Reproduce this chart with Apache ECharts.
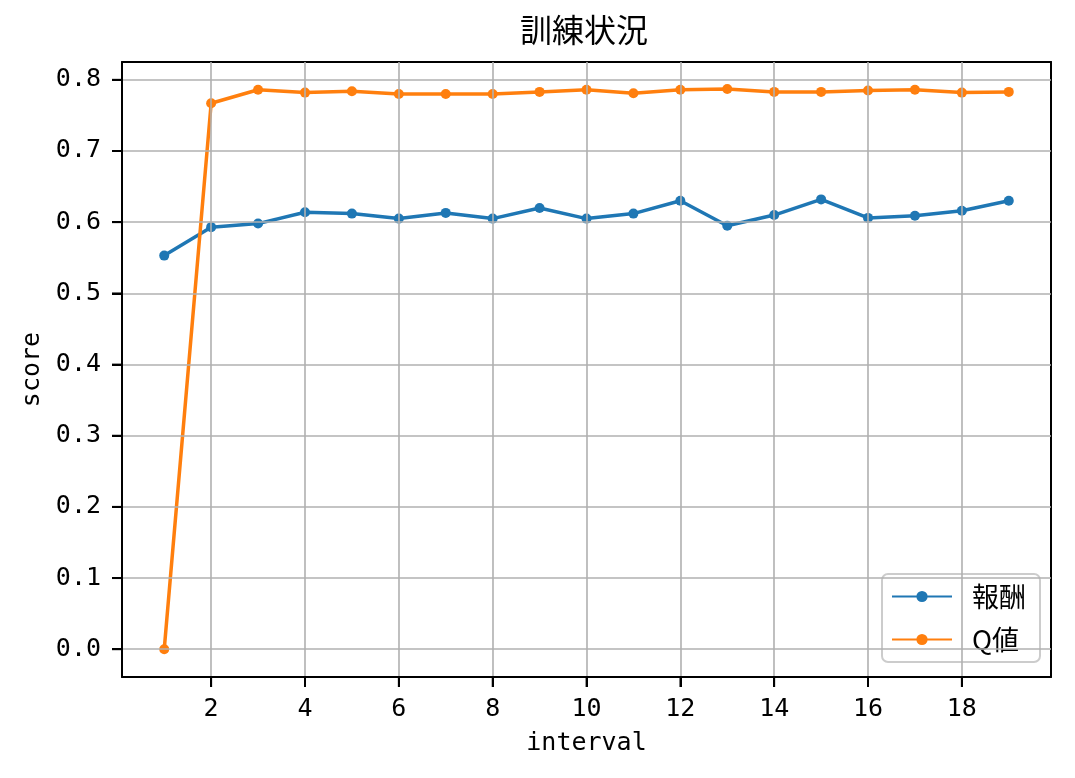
<!DOCTYPE html>
<html>
<head>
<meta charset="utf-8">
<script src="https://cdn.jsdelivr.net/npm/echarts@6/dist/echarts.min.js"></script>
<style>
  html, body { margin: 0; padding: 0; background: #fff; }
  #chart { width: 1075px; height: 778px; }
</style>
</head>
<body>
<div id="chart"></div>
<script>
  // 訓練状況 data
  const intervals = [1, 2, 3, 4, 5, 6, 7, 8, 9, 10, 11, 12, 13, 14, 15, 16, 17, 18, 19]
  const reward = [0.553, 0.593, 0.598, 0.614, 0.612, 0.605, 0.613, 0.605, 0.620, 0.605,
    0.612, 0.630, 0.595, 0.610, 0.632, 0.606, 0.609, 0.616, 0.630]
  const qValue = [0.0, 0.767, 0.786, 0.782, 0.784, 0.780, 0.780, 0.780, 0.783, 0.786,
    0.781, 0.786, 0.787, 0.783, 0.783, 0.785, 0.786, 0.782, 0.783]
  const xTicks = [2, 4, 6, 8, 10, 12, 14, 16, 18]
  const yTicks = [0, 0.1, 0.2, 0.3, 0.4, 0.5, 0.6, 0.7, 0.8]

  const mono = 'DejaVu Sans Mono'
  const cjk = '"Noto Sans CJK JP", "DejaVu Sans Mono"'
  const xRange = {min: 0.1, max: 19.9}
  const yRange = {min: -0.039, max: 0.825}

  const pairs = (ys) => intervals.map((x, i) => [x, ys[i]])
  const spine = () => ({show: true, onZero: false, lineStyle: {color: '#000', width: 2}})

  // tick marks outside the frame, placed on the axis ends through the axis scales
  const tickSeries = (data, size, offset) => ({
    type: 'scatter',
    data: data,
    symbol: 'rect',
    symbolSize: size,
    symbolOffset: offset,
    clip: false,
    silent: true,
    itemStyle: {color: '#000'},
    emphasis: {disabled: true},
    z: 5
  })

  const chart = echarts.init(document.getElementById('chart'), null, {renderer: 'canvas'})
  chart.setOption({
    animation: false,
    color: ['#1f77b4', '#ff7f0e'],
    title: {
      text: '訓練状況',
      left: 520,
      top: 14,
      padding: 0,
      textStyle: {fontFamily: cjk, fontSize: 32, fontWeight: 'normal', color: '#000'}
    },
    grid: {left: 122, top: 62, right: 24, bottom: 101},
    legend: {
      left: 882,
      top: 574,
      orient: 'vertical',
      padding: [8, 14, 8, 9],
      itemWidth: 60,
      itemHeight: 14,
      itemGap: 14,
      backgroundColor: 'rgba(255,255,255,0.8)',
      borderColor: '#cccccc',
      borderWidth: 2,
      borderRadius: 6,
      selectedMode: false,
      textStyle: {fontFamily: cjk, fontSize: 27, color: '#000', lineHeight: 29, padding: [0, 0, 0, 15]},
      data: ['報酬', 'Q値']
    },
    xAxis: [
      {
        type: 'value',
        ...xRange,
        position: 'bottom',
        z: 10,
        name: 'interval',
        nameLocation: 'middle',
        nameGap: 54,
        nameTextStyle: {fontFamily: mono, fontSize: 25, color: '#000'},
        axisLine: spine(),
        axisTick: {show: true, length: 10, lineStyle: {color: '#000', width: 2}, customValues: xTicks},
        axisLabel: {margin: 20, fontFamily: mono, fontSize: 25, color: '#000', customValues: xTicks},
        splitLine: {show: true, lineStyle: {color: '#b0b0b0', width: 1.6}}
      },
      {
        type: 'value',
        ...xRange,
        position: 'top',
        axisLine: spine(),
        axisTick: {show: false},
        axisLabel: {show: false},
        splitLine: {show: false}
      }
    ],
    yAxis: [
      {
        type: 'value',
        ...yRange,
        position: 'left',
        z: 10,
        name: 'score',
        nameLocation: 'middle',
        nameGap: 74,
        nameTextStyle: {fontFamily: mono, fontSize: 25, color: '#000'},
        axisLine: spine(),
        axisTick: {show: true, length: 10, lineStyle: {color: '#000', width: 2}, customValues: yTicks},
        axisLabel: {
          margin: 21, fontFamily: mono, fontSize: 25, color: '#000', customValues: yTicks,
          formatter: (v) => v.toFixed(1)
        },
        splitLine: {show: true, lineStyle: {color: '#b0b0b0', width: 1.6}}
      },
      {
        type: 'value',
        ...yRange,
        position: 'right',
        axisLine: spine(),
        axisTick: {show: false},
        axisLabel: {show: false},
        splitLine: {show: false}
      }
    ],
    series: [
      {
        name: '報酬',
        type: 'line',
        data: pairs(reward),
        symbol: 'circle',
        symbolSize: 10,
        clip: false,
        lineStyle: {width: 3.5},
        emphasis: {disabled: true}
      },
      {
        name: 'Q値',
        type: 'line',
        data: pairs(qValue),
        symbol: 'circle',
        symbolSize: 10,
        clip: false,
        lineStyle: {width: 3.5},
        emphasis: {disabled: true}
      },
      tickSeries(xTicks.map(v => [v, yRange.min]), [2, 10], [0, 5]),
      tickSeries(yTicks.map(v => [xRange.min, v]), [10, 2], [-5, 0])
    ]
  })
</script>
</body>
</html>
